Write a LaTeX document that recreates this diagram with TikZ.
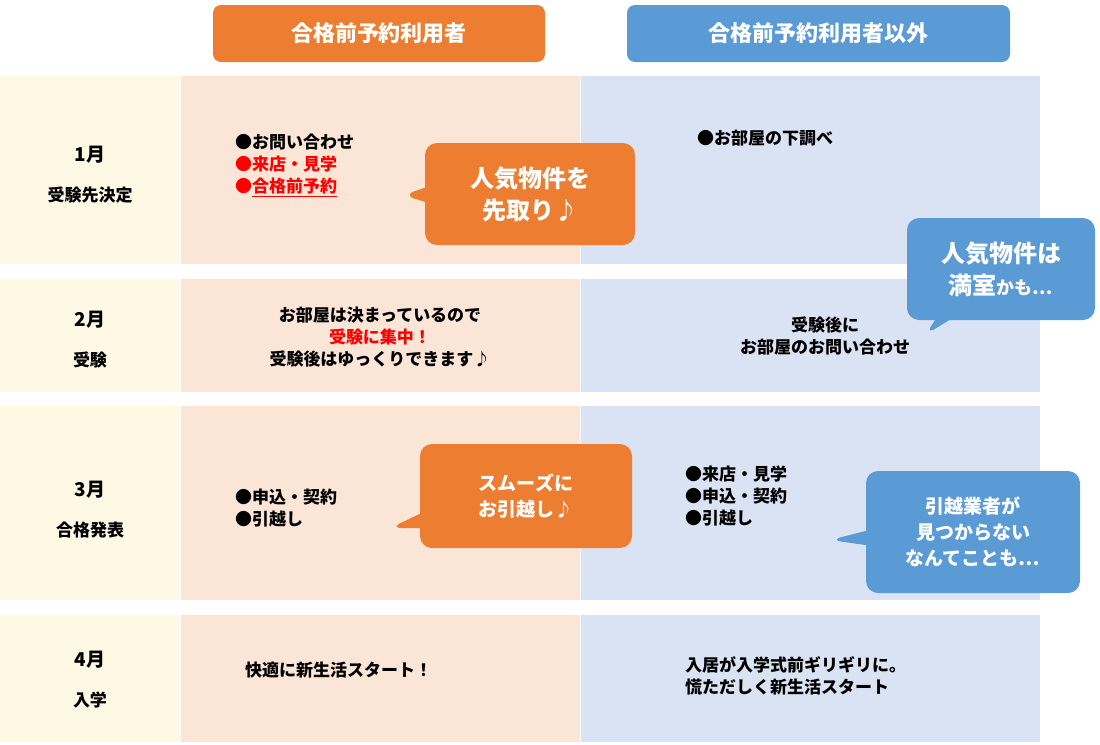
\documentclass[tikz,border=0pt]{standalone}
\usepackage{fontspec}
\setmainfont{Noto Sans CJK JP}
\usetikzlibrary{shapes.callouts}
\definecolor{hdorange}{HTML}{ED7D31}
\definecolor{hdblue}{HTML}{5B9BD5}
\definecolor{cellyellow}{HTML}{FFF8E5}
\definecolor{cellorange}{HTML}{FBE5D6}
\definecolor{cellblue}{HTML}{DAE3F3}
\tikzset{
  head box/.style={rounded corners=4pt,text=white,font=\fontsize{11}{13}\selectfont\bfseries},
  cell/.style={draw=none},
  month/.style={font=\fontsize{9.5}{12}\selectfont\bfseries,align=center},
  body/.style={font=\fontsize{8.5}{11}\selectfont\bfseries,align=left,anchor=west},
  mid/.style={font=\fontsize{8.5}{11}\selectfont\bfseries,align=center},
  talk/.style={rectangle callout,rounded corners=6pt,text=white,align=center,inner sep=0pt}
}
\begin{document}
\begin{tikzpicture}[x=0.5pt,y=-0.5pt]
\useasboundingbox (0,0) rectangle (1100,745);
% header
\fill[hdorange,head box] (213,5) rectangle (545,62);
\node[head box] (hleft) at (379,33) {合格前予約利用者};
\fill[hdblue,head box] (627,5) rectangle (1010,62);
\node[head box] (hright) at (818,33) {合格前予約利用者以外};
% rows
\foreach \top/\bot in {76/264,279/392,406/600,615/742}{
  \fill[cellyellow] (0,\top) rectangle (180,\bot);
  \fill[cellorange] (181,\top) rectangle (580,\bot);
  \fill[cellblue] (581,\top) rectangle (1040,\bot);
}
% months
\node[month] (m1) at (90,175) {1月\\[8pt]{\fontsize{8.5}{11}\selectfont 受験先決定}};
\node[month] (m2) at (90,340) {2月\\[8pt]{\fontsize{8.5}{11}\selectfont 受験}};
\node[month] (m3) at (90,510) {3月\\[8pt]{\fontsize{8.5}{11}\selectfont 合格発表}};
\node[month] (m4) at (90,680) {4月\\[8pt]{\fontsize{8.5}{11}\selectfont 入学}};
% left column
\node[body] (l1) at (228,166) {●お問い合わせ\\\textcolor{red}{●来店・見学}\\\textcolor{red}{●\underline{合格前予約}}};
\node[mid] (l2) at (380,337) {お部屋は決まっているので\\\textcolor{red}{受験に集中！}\\受験後はゆっくりできます♪};
\node[body] (l3) at (228,508) {●申込・契約\\●引越し};
\node[body] (l4) at (238,670) {快適に新生活スタート！};
% right column
\node[body] (r1) at (690,138) {●お部屋の下調べ};
\node[mid] (r2) at (825,336) {受験後に\\お部屋のお問い合わせ};
\node[body] (r3) at (678,496) {●来店・見学\\●申込・契約\\●引越し};
\node[body] (r4) at (678,676) {入居が入学式前ギリギリに。\\慌ただしく新生活スタート};
% callouts
\node[talk,fill=hdorange,minimum width=105pt,minimum height=51pt,font=\fontsize{12}{16}\selectfont\bfseries,callout absolute pointer={(403,195)}] (c1) at (530,194) {人気物件を\\先取り♪};
\node[talk,fill=hdblue,minimum width=94pt,minimum height=51pt,font=\fontsize{12}{16}\selectfont\bfseries,callout absolute pointer={(925,335)}] (c2) at (1001,269) {人気物件は\\満室{\fontsize{9}{12}\selectfont かも…}};
\node[talk,fill=hdorange,minimum width=106pt,minimum height=52pt,font=\fontsize{9.5}{13}\selectfont\bfseries,callout absolute pointer={(390,528)}] (c3) at (526,496) {スムーズに\\お引越し♪};
\node[talk,fill=hdblue,minimum width=107pt,minimum height=61pt,font=\fontsize{9.5}{13}\selectfont\bfseries,callout absolute pointer={(830,540)}] (c4) at (973,532) {引越業者が\\見つからない\\なんてことも…};
\end{tikzpicture}
\end{document}
